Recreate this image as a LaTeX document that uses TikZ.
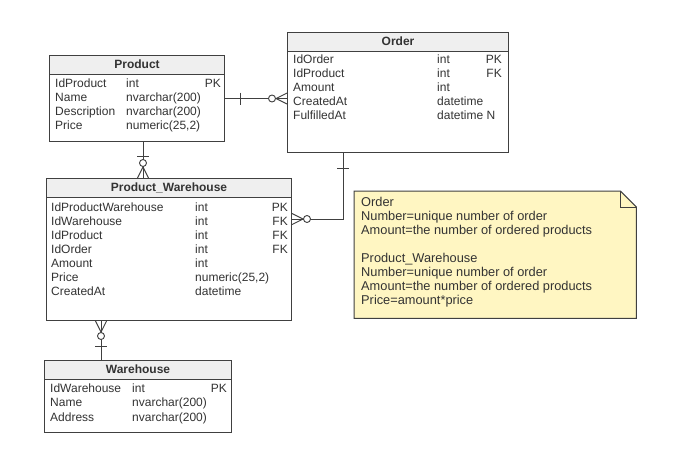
\documentclass[tikz,border=0pt]{standalone}
\usepackage{fontspec}
\setmainfont{Liberation Sans}
\usetikzlibrary{calc}
\definecolor{ln}{HTML}{404040}
\definecolor{hd}{HTML}{EFEFEF}
\definecolor{tx}{HTML}{333333}
\definecolor{nt}{HTML}{FFF6C2}
\begin{document}
\begin{tikzpicture}[x=1pt,y=-1pt,
  tbl/.style={draw=ln, line width=1pt, fill=white, anchor=north west, inner sep=0pt},
  hdr/.style={draw=ln, line width=1pt, fill=hd, anchor=north, inner sep=0pt, minimum height=18.5pt,
    text height=8pt, text depth=0pt, text=tx, font=\bfseries\fontsize{12}{14}\selectfont},
  cell/.style={anchor=west, inner sep=0pt, text height=8pt, text depth=0pt, text=tx,
    font=\fontsize{12}{14}\selectfont},
  cellr/.style={cell, anchor=east},
  conn/.style={draw=ln, line width=0.9pt},
  notetext/.style={anchor=north west, inner sep=0pt, align=left, text=tx,
    font=\fontsize{12.8}{14}\selectfont}
]
\useasboundingbox (0,0) rectangle (691,450);
\fill[white] (0,0) rectangle (691,450);

% ---------- tables ----------
\node[tbl, minimum width=175pt, minimum height=86pt] (prod) at (49,55) {};
\node[hdr, minimum width=175pt] (prodh) at (prod.north) {Product};
\foreach \n/\t/\k [count=\i from 0] in {IdProduct/int/PK, Name/nvarchar(200)/{}, Description/nvarchar(200)/{}, Price/{numeric(25,2)}/{}}{
  \node[cell] (prodn\i) at (55,{83+14.1*\i}) {\n};
  \node[cell] (prodt\i) at (126,{83+14.1*\i}) {\t};
  \node[cellr] (prodk\i) at (221,{83+14.1*\i}) {\k};
}

\node[tbl, minimum width=221pt, minimum height=120pt] (order) at (287,32) {};
\node[hdr, minimum width=221pt] (orderh) at (order.north) {Order};
\foreach \n/\t/\k [count=\i from 0] in {IdOrder/int/PK, IdProduct/int/FK, Amount/int/{}, CreatedAt/datetime/{}, FulfilledAt/datetime N/{}}{
  \node[cell] (ordern\i) at (293,{59+14.2*\i}) {\n};
  \node[cell] (ordert\i) at (437,{59+14.2*\i}) {\t};
  \node[cellr] (orderk\i) at (502,{59+14.2*\i}) {\k};
}

\node[tbl, minimum width=245pt, minimum height=142pt] (pw) at (46,178) {};
\node[hdr, minimum width=245pt] (pwh) at (pw.north) {Product\_Warehouse};
\foreach \n/\t/\k [count=\i from 0] in {IdProductWarehouse/int/PK, IdWarehouse/int/FK, IdProduct/int/FK, IdOrder/int/FK, Amount/int/{}, Price/{numeric(25,2)}/{}, CreatedAt/datetime/{}}{
  \node[cell] (pwn\i) at (51,{207+14.1*\i}) {\n};
  \node[cell] (pwt\i) at (195,{207+14.1*\i}) {\t};
  \node[cellr] (pwk\i) at (288,{207+14.1*\i}) {\k};
}

\node[tbl, minimum width=187pt, minimum height=72pt] (wh) at (44,360) {};
\node[hdr, minimum width=187pt] (whh) at (wh.north) {Warehouse};
\foreach \n/\t/\k [count=\i from 0] in {IdWarehouse/int/PK, Name/nvarchar(200)/{}, Address/nvarchar(200)/{}}{
  \node[cell] (whn\i) at (50,{388+14.5*\i}) {\n};
  \node[cell] (wht\i) at (132,{388+14.5*\i}) {\t};
  \node[cellr] (whk\i) at (227,{388+14.5*\i}) {\k};
}

% ---------- note ----------
\node[anchor=north west, inner sep=0pt, minimum width=282pt, minimum height=127pt] (note) at (354,191) {};
\draw[draw=ln, line width=1pt, fill=nt] (note.north west) -- ($(note.north east)+(-16,0)$)
  -- ($(note.north east)+(0,16)$) -- (note.south east) -- (note.south west) -- cycle;
\draw[draw=ln, line width=1pt] ($(note.north east)+(-16,0)$) -- ($(note.north east)+(-16,16)$) -- ($(note.north east)+(0,16)$);
\node[notetext] (notet) at (361,197.5) {Order\\Number=unique number of order\\Amount=the number of ordered products\\[14pt]Product\_Warehouse\\Number=unique number of order\\Amount=the number of ordered products\\Price=amount*price};

% ---------- connectors ----------
% Product -- Order
\coordinate (poA) at (prod.east);
\coordinate (poB) at (prod.east -| order.west);
\draw[conn] (poA) -- (poB);
\draw[conn] ($(poA)+(15,-6)$) -- ($(poA)+(15,6)$);
\draw[conn] ($(poB)+(-11,0)$) -- ($(poB)+(0,-5.5)$) ($(poB)+(-11,0)$) -- ($(poB)+(0,5.5)$);
\draw[conn, fill=white] ($(poB)+(-15,0)$) circle (3.5pt);

% Product -- Product_Warehouse
\coordinate (ppA) at ($(prod.south west)+(94,0)$);
\coordinate (ppB) at (ppA |- pw.north);
\draw[conn] (ppA) -- (ppB);
\draw[conn] ($(ppA)+(-6,14)$) -- ($(ppA)+(6,14)$);
\draw[conn] ($(ppB)+(0,-11)$) -- ($(ppB)+(-5.5,0)$) ($(ppB)+(0,-11)$) -- ($(ppB)+(5.5,0)$);
\draw[conn, fill=white] ($(ppB)+(0,-15)$) circle (3.5pt);

% Order -- Product_Warehouse
\coordinate (opA) at ($(order.south west)+(56,0)$);
\coordinate (opB) at ($(pw.north east)+(0,41)$);
\draw[conn] (opA) |- (opB);
\draw[conn] ($(opA)+(-6,15)$) -- ($(opA)+(6,15)$);
\draw[conn] ($(opB)+(11,0)$) -- ($(opB)+(0,-5.5)$) ($(opB)+(11,0)$) -- ($(opB)+(0,5.5)$);
\draw[conn, fill=white] ($(opB)+(15,0)$) circle (3.5pt);

% Product_Warehouse -- Warehouse
\coordinate (pwA) at ($(pw.south west)+(55,0)$);
\coordinate (pwB) at (pwA |- wh.north);
\draw[conn] (pwA) -- (pwB);
\draw[conn] ($(pwA)+(0,11)$) -- ($(pwA)+(-5.5,0)$) ($(pwA)+(0,11)$) -- ($(pwA)+(5.5,0)$);
\draw[conn, fill=white] ($(pwA)+(0,15)$) circle (3.5pt);
\draw[conn] ($(pwB)+(-6,-14)$) -- ($(pwB)+(6,-14)$);
\end{tikzpicture}
\end{document}
